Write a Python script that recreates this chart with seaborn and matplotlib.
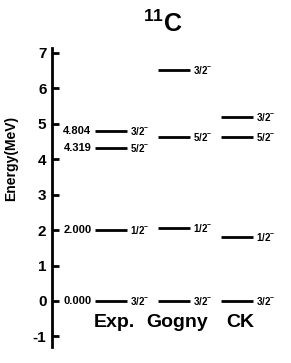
import pandas as pd
import seaborn as sns
import matplotlib
matplotlib.use('Agg')
import matplotlib.pyplot as plt

# level schemes
models = ["Exp.", "Gogny", "CK"]
exp_e = [0.000, 2.000, 4.319, 4.804]
exp_spin = ["3/2", "1/2", "5/2", "3/2"]
gogny_e = [0.0, 2.05, 4.62, 6.52]
gogny_spin = ["3/2", "1/2", "5/2", "3/2"]
ck_e = [0.0, 1.80, 4.62, 5.20]
ck_spin = ["3/2", "1/2", "5/2", "3/2"]

rows = []
for i, (ee, ss) in enumerate([(exp_e, exp_spin), (gogny_e, gogny_spin), (ck_e, ck_spin)]):
    for e, s in zip(ee, ss):
        rows.append({"model": models[i], "pos": i + 1, "E": e, "spin": s})
df = pd.DataFrame(rows)

sns.set_style("ticks", {"text.color": "black", "axes.labelcolor": "black",
                        "axes.edgecolor": "black", "ytick.color": "black",
                        "xtick.color": "black"})
plt.rcParams['font.family'] = ['Liberation Sans', 'DejaVu Sans']
plt.rcParams['font.weight'] = 'bold'
plt.rcParams['axes.unicode_minus'] = False
plt.rcParams['mathtext.fontset'] = 'custom'
plt.rcParams['mathtext.rm'] = 'Liberation Sans:bold'
plt.rcParams['mathtext.bf'] = 'Liberation Sans:bold'

fig = plt.figure(figsize=(2.91, 3.63), dpi=100)
ax = fig.add_axes([52 / 291, 16 / 363, 239 / 291, 299 / 363])

hw = 0.26
ax.hlines(df["E"], df["pos"] - hw, df["pos"] + hw, color='black', lw=2)
for _, r in df.iterrows():
    ax.text(r["pos"] + hw + 0.04, r["E"], r["spin"] + "$^{-}$", fontsize=7,
            fontweight='bold', va='center', ha='left', color='black')
for e in exp_e:
    ax.text(1 - hw - 0.05, e, f"{e:.3f}", fontsize=8, fontweight='bold',
            va='center', ha='right', color='black')
for i, m in enumerate(models):
    ax.text(i + 1.05, -0.62, m, fontsize=14, fontweight='bold', ha='center',
            va='center', color='black')

ax.set_xlim(0.063, 3.86)
ax.set_ylim(-1.3, 7.14)
ax.set_yticks(range(-1, 8))
ax.set_xticks([])
ax.tick_params(axis='y', direction='in', length=5, width=2, labelsize=11, pad=4,
               colors='black')
for lab in ax.get_yticklabels():
    lab.set_fontweight('bold')
sns.despine(ax=ax, top=True, right=True, bottom=True)
ax.spines['left'].set_linewidth(2)
ax.spines['left'].set_color('black')
ax.set_ylabel("Energy(MeV)", fontsize=10, fontweight='bold', color='black')
ax.yaxis.set_label_coords(-0.14, 0.632)
fig.text(163 / 291, 1 - 24 / 363, "$^{11}$C", fontsize=18, fontweight='bold',
         ha='center', va='center', color='black')

fig.savefig("out.png", dpi=100)
